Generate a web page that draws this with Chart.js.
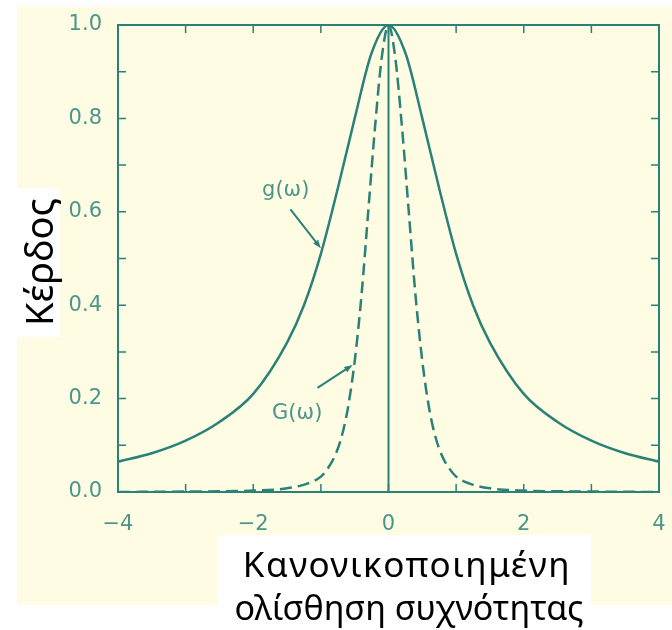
<!DOCTYPE html>
<html>
<head>
<meta charset="utf-8">
<script src="https://cdn.jsdelivr.net/npm/chart.js@4/dist/chart.umd.min.js"></script>
<style>
  html, body { margin: 0; padding: 0; background: #ffffff; }
  #wrap { width: 672px; height: 630px; }
</style>
</head>
<body>
<div id="wrap"><canvas id="gain-chart" width="672" height="630"></canvas></div>
<script>
// Normalised frequency offset (x) and gain values
const gX = [-4, -3.5, -3, -2.5, -2, -1.5, -1.25, -1, -0.75, -0.5, -0.25, 0,
            0.25, 0.5, 0.75, 1, 1.25, 1.5, 2, 2.5, 3, 3.5, 4];
const gGain = [0.065, 0.083, 0.11, 0.15, 0.21, 0.32, 0.40, 0.51, 0.65, 0.80, 0.94, 1.0,
               0.94, 0.80, 0.65, 0.51, 0.40, 0.32, 0.21, 0.15, 0.11, 0.083, 0.065];

const bigGX = [-4, -3, -2, -1.5, -1.2, -1, -0.9, -0.8, -0.7, -0.6, -0.5, -0.4, -0.3, -0.2, -0.1, 0,
               0.1, 0.2, 0.3, 0.4, 0.5, 0.6, 0.7, 0.8, 0.9, 1, 1.2, 1.5, 2, 3, 4];
const bigGGain = [0.0, 0.001, 0.003, 0.008, 0.018, 0.033, 0.05, 0.075, 0.115, 0.18, 0.28, 0.42, 0.60, 0.78, 0.93, 1.0,
                  0.93, 0.78, 0.60, 0.42, 0.28, 0.18, 0.115, 0.075, 0.05, 0.033, 0.018, 0.008, 0.003, 0.001, 0.0];

const zeroLineX = [0, 0];
const zeroLineY = [0, 1];

const xTickLabels = [-4, -2, 0, 2, 4];
const yTickLabels = [0.0, 0.2, 0.4, 0.6, 0.8, 1.0];

const yTitle = 'Κέρδος';
const xTitle = ['Κανονικοποιημένη', 'ολίσθηση συχνότητας'];
const curveLabels = [
    { text: 'g(ω)', x: -1.52, y: 0.645, from: [-1.45, 0.605], to: [-1.0, 0.522] },
    { text: 'G(ω)', x: -1.35, y: 0.167, from: [-1.05, 0.223], to: [-0.53, 0.272] },
];

const TEAL = '#2b8078';
const TICK_TEXT = '#4b958b';
const TICK_FONT = '"DejaVu Sans", sans-serif';

const toPoints = (xs, ys) => xs.map((x, i) => ({ x: x, y: ys[i] }));

// page backdrop: scanned yellow panel with white label boxes
const backdrop = {
    id: 'backdrop',
    beforeDraw(chart) {
        const ctx = chart.ctx;
        ctx.save();
        ctx.fillStyle = '#ffffff';
        ctx.fillRect(0, 0, chart.width, chart.height);
        ctx.fillStyle = '#fefde4';
        ctx.fillRect(17, 7, 655, 598);
        ctx.fillStyle = '#ffffff';
        ctx.fillRect(0, 188, 60, 149);
        ctx.fillRect(218, 535, 373, 95);
        ctx.restore();
    }
};

function drawArrow(ctx, x1, y1, x2, y2) {
    const ang = Math.atan2(y2 - y1, x2 - x1);
    ctx.beginPath();
    ctx.moveTo(x1, y1);
    ctx.lineTo(x2 - 5 * Math.cos(ang), y2 - 5 * Math.sin(ang));
    ctx.stroke();
    ctx.beginPath();
    ctx.moveTo(x2, y2);
    ctx.lineTo(x2 - 9 * Math.cos(ang - 0.35), y2 - 9 * Math.sin(ang - 0.35));
    ctx.lineTo(x2 - 9 * Math.cos(ang + 0.35), y2 - 9 * Math.sin(ang + 0.35));
    ctx.closePath();
    ctx.fill();
}

// frame, inward ticks, titles and curve annotations
const decorations = {
    id: 'decorations',
    afterDraw(chart) {
        const ctx = chart.ctx;
        const xs = chart.scales.x;
        const ys = chart.scales.y;
        const area = chart.chartArea;
        ctx.save();
        ctx.strokeStyle = TEAL;
        ctx.fillStyle = TEAL;
        ctx.lineWidth = 2;

        // top and right frame
        ctx.beginPath();
        ctx.moveTo(area.left, area.top);
        ctx.lineTo(area.right, area.top);
        ctx.lineTo(area.right, area.bottom);
        ctx.stroke();

        // inward ticks
        ctx.lineWidth = 1.5;
        ctx.beginPath();
        for (let v = -3; v <= 3; v++) {
            const px = xs.getPixelForValue(v);
            ctx.moveTo(px, area.bottom);
            ctx.lineTo(px, area.bottom - 8);
            ctx.moveTo(px, area.top);
            ctx.lineTo(px, area.top + 8);
        }
        for (let k = 1; k <= 9; k++) {
            const py = ys.getPixelForValue(k / 10);
            ctx.moveTo(area.left, py);
            ctx.lineTo(area.left + 8, py);
            ctx.moveTo(area.right, py);
            ctx.lineTo(area.right - 8, py);
        }
        ctx.stroke();

        // curve labels with arrows
        ctx.font = '21px ' + TICK_FONT;
        ctx.textAlign = 'center';
        ctx.textBaseline = 'middle';
        curveLabels.forEach(l => {
            ctx.fillStyle = TICK_TEXT;
            ctx.fillText(l.text, xs.getPixelForValue(l.x), ys.getPixelForValue(l.y));
            ctx.fillStyle = TEAL;
            ctx.lineWidth = 2;
            drawArrow(ctx,
                xs.getPixelForValue(l.from[0]), ys.getPixelForValue(l.from[1]),
                xs.getPixelForValue(l.to[0]), ys.getPixelForValue(l.to[1]));
        });

        // axis titles
        ctx.fillStyle = '#000000';
        ctx.textBaseline = 'alphabetic';
        ctx.font = '38px "Noto Sans", sans-serif';
        ctx.translate(53, 262);
        ctx.rotate(-Math.PI / 2);
        ctx.fillText(yTitle, 0, 0);
        ctx.setTransform(1, 0, 0, 1, 0, 0);
        ctx.font = '35px "Noto Sans", sans-serif';
        ctx.letterSpacing = '1.5px';
        ctx.fillText(xTitle[0], 407, 577);
        ctx.font = '34px "Noto Sans", sans-serif';
        ctx.letterSpacing = '0px';
        ctx.fillText(xTitle[1], 409, 620);
        ctx.restore();
    }
};

const ctx = document.getElementById('gain-chart').getContext('2d');
new Chart(ctx, {
    type: 'line',
    data: {
        datasets: [
            {
                label: 'g(ω)',
                data: toPoints(gX, gGain),
                borderColor: TEAL,
                borderWidth: 2.5,
                pointRadius: 0,
                fill: false,
                cubicInterpolationMode: 'monotone',
            },
            {
                label: 'G(ω)',
                data: toPoints(bigGX, bigGGain),
                borderColor: TEAL,
                borderWidth: 2.5,
                borderDash: [12, 6],
                pointRadius: 0,
                fill: false,
                cubicInterpolationMode: 'monotone',
            },
            {
                label: 'zero',
                data: toPoints(zeroLineX, zeroLineY),
                borderColor: TEAL,
                borderWidth: 2,
                pointRadius: 0,
                fill: false,
            }
        ],
    },
    options: {
        animation: false,
        responsive: false,
        devicePixelRatio: 1,
        layout: { autoPadding: false, padding: { top: 25, right: 13, left: 0, bottom: 0 } },
        plugins: {
            legend: { display: false },
            tooltip: { enabled: false },
        },
        scales: {
            x: {
                type: 'linear',
                min: -4,
                max: 4,
                afterFit: s => {
                    s.height = 138;
                    s.paddingLeft = 0;
                    s.paddingRight = 0;
                },
                afterBuildTicks: s => { s.ticks = xTickLabels.map(v => ({ value: v })); },
                grid: { display: false, drawTicks: false },
                border: { display: true, color: TEAL, width: 2 },
                ticks: {
                    color: TICK_TEXT,
                    padding: 20,
                    maxRotation: 0,
                    font: { family: TICK_FONT, size: 21 },
                    callback: v => (v < 0 ? '\u2212' + Math.abs(v) : String(v)),
                },
            },
            y: {
                type: 'linear',
                min: 0,
                max: 1,
                afterFit: s => {
                    s.width = 118;
                    s.paddingTop = 0;
                    s.paddingBottom = 0;
                },
                afterBuildTicks: s => { s.ticks = yTickLabels.map(v => ({ value: v })); },
                grid: { display: false, drawTicks: false },
                border: { display: true, color: TEAL, width: 2 },
                ticks: {
                    color: TICK_TEXT,
                    padding: 16,
                    font: { family: TICK_FONT, size: 21 },
                    callback: v => v.toFixed(1),
                },
            },
        },
    },
    plugins: [backdrop, decorations],
});
</script>
</body>
</html>
